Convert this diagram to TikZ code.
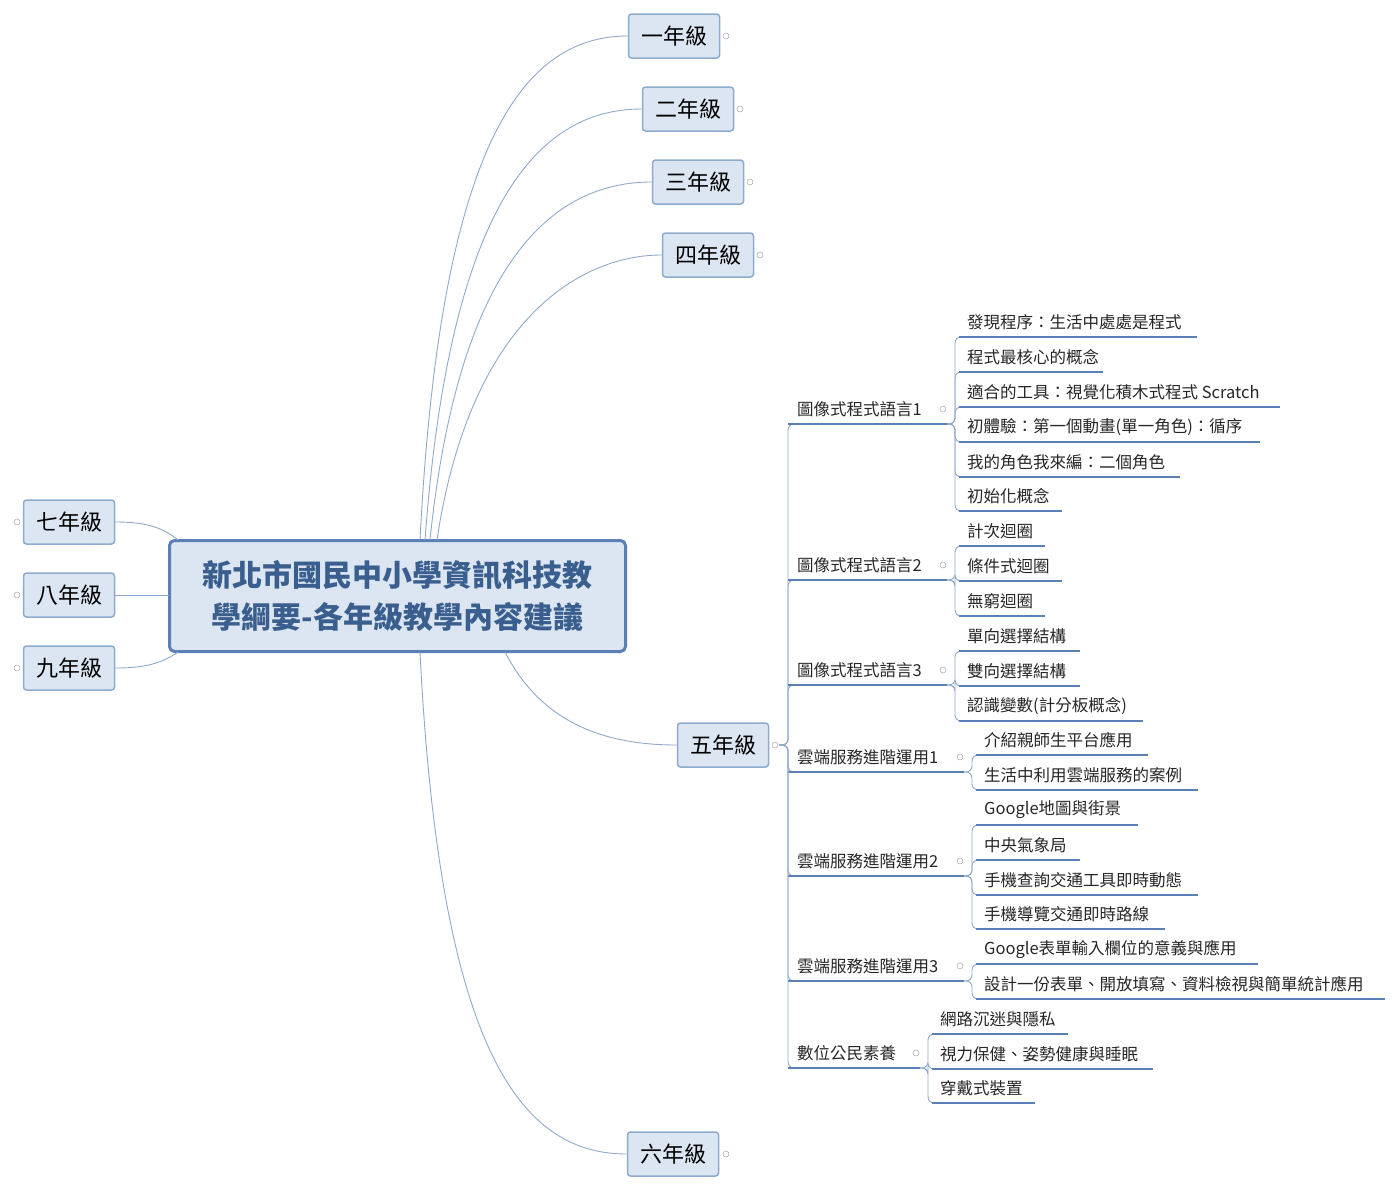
\documentclass[tikz,border=0pt]{standalone}
\usepackage{fontspec}
\setmainfont{Noto Sans CJK TC}
\begin{document}
\begin{tikzpicture}[x=1pt,y=-1pt,
  conn/.style={draw=linec,line width=0.9pt},
  ul/.style={draw=ulc,line width=2pt},
  yr/.style={draw=boxb,fill=boxf,line width=1.5pt,rounded corners=3pt,minimum width=91pt,minimum height=44pt,font=\fontsize{22}{24}\selectfont,text=black},
  lt/.style={font=\fontsize{16.5}{18}\selectfont,inner sep=0pt,text=black!85},
  dot/.style={circle,draw=gray!70,fill=white,inner sep=0pt,minimum size=6pt,line width=0.5pt}]
\definecolor{linec}{HTML}{8FA9CC}
\definecolor{ulc}{HTML}{5B80B6}
\definecolor{boxb}{HTML}{8EAACC}
\definecolor{boxf}{HTML}{DCE6F2}
\definecolor{cen}{HTML}{3A5F8E}
\useasboundingbox (0,0) rectangle (1400,1191);
% center
\node[draw=ulc,fill=boxf,line width=3pt,rounded corners=5pt,minimum width=456pt,minimum height=111pt,align=center,text=cen,font=\fontsize{30}{42}\selectfont\bfseries] (c) at (397.5,596) {新北市國民中小學資訊科技教\\學綱要-各年級教學內容建議};
% years
\node[yr] (y1) at (674,36) {一年級};
\node[yr] (y2) at (688,109) {二年級};
\node[yr] (y3) at (698,182) {三年級};
\node[yr] (y4) at (708,255) {四年級};
\node[yr] (y5) at (723,745) {五年級};
\node[yr] (y6) at (673,1154) {六年級};
\node[yr] (y7) at (69,522) {七年級};
\node[yr] (y8) at (69,595) {八年級};
\node[yr] (y9) at (69,668) {九年級};
\foreach \n/\x/\y in {a/726/36,b/740/109,c/750/182,d/760/255,e/726/1154}{\node[dot] (d\n) at (\x,\y) {};}
\foreach \n/\y in {f/522,g/595,h/668}{\node[dot] (d\n) at (17,\y) {};}
\node[dot] (d5) at (775,745) {};
% connectors from center
\begin{scope}[on background layer/.style={}]
\draw[conn] (420,540) .. controls (440,150) and (520,36) .. (y1.west);
\draw[conn] (425,540) .. controls (450,200) and (540,109) .. (y2.west);
\draw[conn] (430,540) .. controls (460,250) and (560,182) .. (y3.west);
\draw[conn] (437,540) .. controls (470,320) and (580,255) .. (y4.west);
\draw[conn] (420,652) .. controls (440,1050) and (520,1154) .. (y6.west);
\draw[conn] (505,652) .. controls (540,720) and (600,745) .. (y5.west);
\draw[conn] (178,540) .. controls (160,525) and (140,522) .. (y7.east);
\draw[conn] (169,595) -- (y8.east);
\draw[conn] (178,652) .. controls (160,665) and (140,668) .. (y9.east);
\end{scope}
% level 1
\newcommand\lvone[5]{% name, y(underline), end x, text, circle x
  \draw[conn,rounded corners=6pt] (779,745) -- (788,745) -- (788,#2) -- (796,#2);
  \draw[ul] (788,#2) -- (#3,#2);
  \node[lt,anchor=west] (#1) at (797,#2-15) {#4};
  \node[dot] (#1d) at (#5,#2-15) {};}
\lvone{p1}{424}{947}{圖像式程式語言1}{943}
\lvone{p2}{580}{947}{圖像式程式語言2}{943}
\lvone{p3}{685}{947}{圖像式程式語言3}{943}
\lvone{p4}{772}{964}{雲端服務進階運用1}{960}
\lvone{p5}{876}{964}{雲端服務進階運用2}{960}
\lvone{p6}{981}{964}{雲端服務進階運用3}{960}
\lvone{p7}{1068}{920}{數位公民素養}{916}
% level 2
\newcommand\lvtwo[6]{% parent end x, parent y, trunk x, text y, end x, text
  \draw[conn,rounded corners=6pt] (#1,#2) -- (#3,#2) -- (#3,#4+15) -- (#3+8,#4+15);
  \draw[ul] (#3+4,#4+15) -- (#5,#4+15);
  \node[lt,anchor=west] at (#3+12,#4) {#6};}
\lvtwo{947}{424}{955}{322}{1197}{發現程序：生活中處處是程式}
\lvtwo{947}{424}{955}{357}{1103}{程式最核心的概念}
\lvtwo{947}{424}{955}{392}{1280}{適合的工具：視覺化積木式程式 Scratch}
\lvtwo{947}{424}{955}{427}{1260}{初體驗：第一個動畫(單一角色)：循序}
\lvtwo{947}{424}{955}{462}{1180}{我的角色我來編：二個角色}
\lvtwo{947}{424}{955}{496}{1062}{初始化概念}
\lvtwo{947}{580}{955}{531}{1045}{計次迴圈}
\lvtwo{947}{580}{955}{566}{1062}{條件式迴圈}
\lvtwo{947}{580}{955}{601}{1045}{無窮迴圈}
\lvtwo{947}{685}{955}{636}{1080}{單向選擇結構}
\lvtwo{947}{685}{955}{671}{1080}{雙向選擇結構}
\lvtwo{947}{685}{955}{706}{1143}{認識變數(計分板概念)}
\lvtwo{964}{772}{972}{740}{1148}{介紹親師生平台應用}
\lvtwo{964}{772}{972}{775}{1198}{生活中利用雲端服務的案例}
\lvtwo{964}{876}{972}{810}{1138}{Google地圖與街景}
\lvtwo{964}{876}{972}{845}{1080}{中央氣象局}
\lvtwo{964}{876}{972}{880}{1198}{手機查詢交通工具即時動態}
\lvtwo{964}{876}{972}{914}{1165}{手機導覽交通即時路線}
\lvtwo{964}{981}{972}{949}{1258}{Google表單輸入欄位的意義與應用}
\lvtwo{964}{981}{972}{984}{1385}{設計一份表單、開放填寫、資料檢視與簡單統計應用}
\lvtwo{920}{1068}{928}{1019}{1068}{網路沉迷與隱私}
\lvtwo{920}{1068}{928}{1054}{1153}{視力保健、姿勢健康與睡眠}
\lvtwo{920}{1068}{928}{1088}{1035}{穿戴式裝置}
\end{tikzpicture}
\end{document}
